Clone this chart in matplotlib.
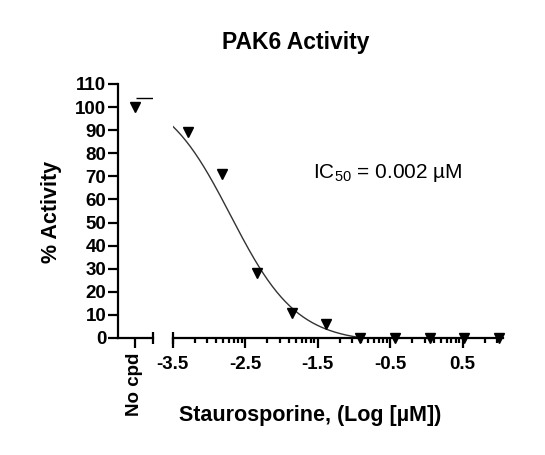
import numpy as np
import matplotlib
matplotlib.use("Agg")
import matplotlib.pyplot as plt

plt.rcParams['font.family'] = ['Liberation Sans', 'DejaVu Sans']
plt.rcParams['mathtext.fontset'] = 'custom'
plt.rcParams['mathtext.rm'] = 'Liberation Sans'
plt.rcParams['mathtext.it'] = 'Liberation Sans:italic'
plt.rcParams['mathtext.bf'] = 'Liberation Sans:bold'

# data
log_conc = [-3.29, -2.82, -2.34, -1.86, -1.39, -0.91, -0.43, 0.05, 0.52, 1.0]
activity = [89, 71, 28, 11, 6, 0, 0, 0, 0, 0]
nocpd_value = 100
nocpd_bar = 104

# fitted curve parameters (4PL)
fit_top = 108
fit_bottom = -2
fit_log_ic50 = -2.7
fit_hill = 0.95

x_major = [-3.5, -2.5, -1.5, -0.5, 0.5]
x_labels = ["-3.5", "-2.5", "-1.5", "-0.5", "0.5"]
y_ticks = list(range(0, 111, 10))

W, H = 545, 455
fig = plt.figure(figsize=(W / 100, H / 100), dpi=100)

def px_box(x0, x1, ytop, ybot):
    return [x0 / W, 1 - ybot / H, (x1 - x0) / W, (ybot - ytop) / H]

ax_l = fig.add_axes(px_box(118, 153, 84, 338))
ax_r = fig.add_axes(px_box(172.7, 503, 84, 338))

lw_axis = 1.6
tick_font = dict(fontsize=13.5, fontweight='bold')

# left panel: No cpd
ax_l.set_xlim(-1, 1.06)
ax_l.set_ylim(0, 110)
for s in ['top', 'right']:
    ax_l.spines[s].set_visible(False)
for s in ['left', 'bottom']:
    ax_l.spines[s].set_linewidth(lw_axis)
ax_l.plot([0], [nocpd_value], marker='v', color='black', markersize=7,
          linestyle='none', clip_on=False)
ax_l.hlines(nocpd_bar, 0.05, 1.06, color='black', linewidth=1.0)
ax_l.set_xticks([0])
ax_l.set_xticklabels(["No cpd"], rotation=90, **tick_font)
ax_l.set_yticks(y_ticks)
ax_l.set_yticklabels([str(v) for v in y_ticks], **tick_font)
ax_l.tick_params(axis='y', which='major', length=7, width=lw_axis, pad=1.5)
ax_l.tick_params(axis='x', which='major', length=7, width=lw_axis, pad=3.5)
ax_l.plot([1.06], [0], marker='|', markersize=9, markeredgewidth=lw_axis,
          color='black', clip_on=False)

# right panel: dose response
xmax = 1.056
ax_r.set_xlim(-3.5, xmax)
ax_r.set_ylim(0, 110)
for s in ['top', 'right', 'left']:
    ax_r.spines[s].set_visible(False)
ax_r.spines['bottom'].set_linewidth(lw_axis)
ax_r.set_yticks([])
ax_r.set_xticks(x_major)
ax_r.set_xticklabels(x_labels, **tick_font)
minor = [m + np.log10(k) for m in x_major for k in range(2, 10)
         if m + np.log10(k) < xmax]
ax_r.set_xticks(minor, minor=True)
ax_r.tick_params(axis='x', which='major', length=7, width=lw_axis, pad=6)
ax_r.tick_params(axis='x', which='minor', length=3.5, width=lw_axis)
ax_r.plot([-3.5], [0], marker='|', markersize=9, markeredgewidth=lw_axis,
          color='black', clip_on=False)

xc = np.linspace(-3.5, xmax, 300)
yc = fit_bottom + (fit_top - fit_bottom) / (1 + 10 ** ((xc - fit_log_ic50) * fit_hill))
ax_r.plot(xc, yc, color='#333333', linewidth=1.0)
ax_r.plot(log_conc, activity, marker='v', color='black', markersize=7,
          linestyle='none', clip_on=False, zorder=5)

ax_r.text(0.652, 0.65, r"IC$_{50}$ = 0.002 µM", transform=ax_r.transAxes,
          fontsize=15, ha='center', va='center')

fig.text(296 / W, 1 - 42 / H, "PAK6 Activity", fontsize=16.5,
         fontweight='bold', ha='center', va='center')
fig.text(310 / W, 1 - 415 / H, "Staurosporine, (Log [µM])", fontsize=15.5,
         fontweight='bold', ha='center', va='center')
fig.text(52 / W, 1 - 212 / H, "% Activity", fontsize=15.5, fontweight='bold',
         rotation=90, ha='center', va='center')

fig.savefig("out.png", dpi=100)
